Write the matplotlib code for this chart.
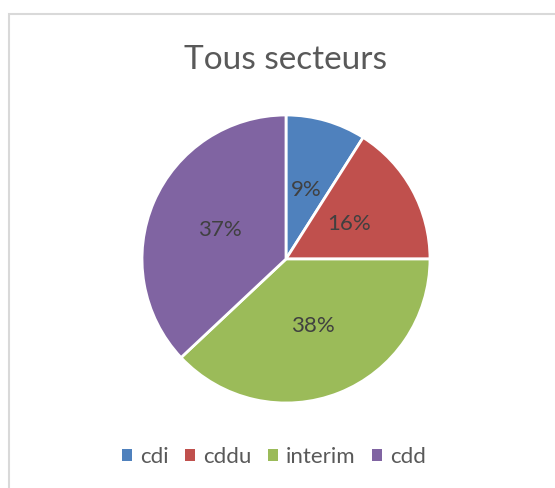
import matplotlib
matplotlib.use("Agg")
import matplotlib.pyplot as plt
from matplotlib.patches import Rectangle

categories = ["cdi", "cddu", "interim", "cdd"]
values = [9, 16, 38, 37]
colors = ["#4F81BD", "#C0504D", "#9BBB59", "#8064A2"]
title = "Tous secteurs"

W, H = 555, 488
fig = plt.figure(figsize=(W / 100, H / 100), dpi=100)
fig.patch.set_facecolor("white")

# chart frame
fig.patches.append(Rectangle((9 / W, -0.1), 1.2, 1 - 14 / H + 0.1,
                             transform=fig.transFigure, fill=False,
                             edgecolor="#d9d9d9", linewidth=1.5))

cx, cy, r = 286, 259, 144
ax = fig.add_axes([(cx - r) / W, (H - cy - r) / H, 2 * r / W, 2 * r / H])
wedges, texts, autotexts = ax.pie(
    values, colors=colors, startangle=90, counterclock=False,
    autopct=lambda p: f"{p:.0f}%", pctdistance=0.5, radius=1,
    wedgeprops=dict(edgecolor="white", linewidth=2),
    textprops=dict(color="#404040", fontsize=16, family="Lato"))
ax.set_xlim(-1, 1)
ax.set_ylim(-1, 1)
ax.set_aspect("equal")
ax.axis("off")

fig.text(cx / W, 1 - 60 / H, title, ha="center", va="center",
         fontsize=24, color="#595959", family="Lato")

leg = fig.legend(wedges, categories, loc="center", bbox_to_anchor=(274 / W, 1 - 457 / H),
                 ncol=4, frameon=False, handlelength=0.45, handleheight=0.45,
                 handletextpad=0.35, columnspacing=0.75,
                 prop=dict(family="Lato", size=16))
for t in leg.get_texts():
    t.set_color("#595959")
for h in leg.legend_handles:
    h.set_edgecolor("none")

fig.savefig("out.png", dpi=100)
